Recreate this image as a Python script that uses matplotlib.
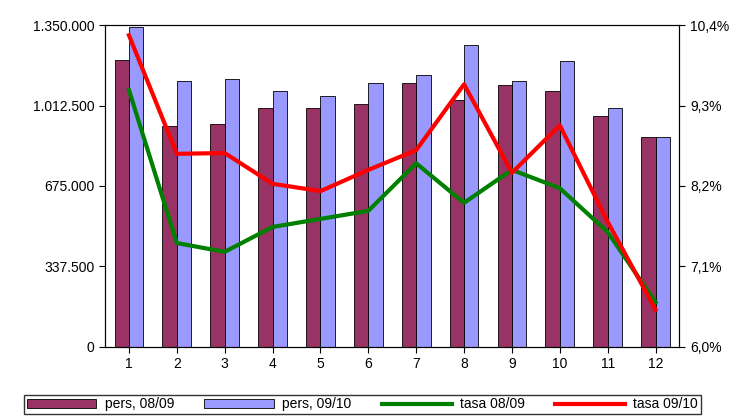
import matplotlib
matplotlib.use("Agg")
import matplotlib.pyplot as plt
import numpy as np
from matplotlib.ticker import FuncFormatter

plt.rcParams['font.family'] = ['Liberation Sans', 'DejaVu Sans']

months = [1,2,3,4,5,6,7,8,9,10,11,12]
pers_0809 = [1203000, 927000, 935000, 1002000, 1002000, 1019000, 1107000, 1036000, 1099000, 1073000, 969000, 880000]
pers_0910 = [1342000, 1115000, 1124000, 1073000, 1052000, 1107000, 1140000, 1266000, 1115000, 1199000, 1002000, 880000]
tasa_0809 = [9.51, 7.42, 7.30, 7.64, 7.75, 7.86, 8.51, 7.97, 8.42, 8.17, 7.57, 6.61]
tasa_0910 = [10.26, 8.64, 8.65, 8.23, 8.13, 8.42, 8.69, 9.59, 8.38, 9.03, 7.71, 6.51]
left_ticks = [0, 337500, 675000, 1012500, 1350000]
right_ticks = [6.0, 7.1, 8.2, 9.3, 10.4]

fig = plt.figure(figsize=(7.47, 4.17), dpi=100)
ax = fig.add_axes([0.1406, 0.168, 0.769, 0.772])
x = np.arange(len(months))
w = 0.3
b1 = ax.bar(x - w/2, pers_0809, w, color='#993366', edgecolor='black', linewidth=0.6, label='pers, 08/09')
b2 = ax.bar(x + w/2, pers_0910, w, color='#9999FF', edgecolor='black', linewidth=0.6, label='pers, 09/10')
ax.set_xlim(-0.5, 11.5)
ax.set_ylim(0, 1350000)
ax.set_yticks(left_ticks)
ax.yaxis.set_major_formatter(FuncFormatter(lambda v, p: f"{int(v):,}".replace(',', '.')))
ax.set_xticks(x)
ax.set_xticklabels([str(m) for m in months])
ax.tick_params(labelsize=10, direction='out', length=4)

ax2 = ax.twinx()
l1, = ax2.plot(x, tasa_0809, color='#008000', lw=3, label='tasa 08/09')
l2, = ax2.plot(x, tasa_0910, color='#FF0000', lw=3, label='tasa 09/10')
ax2.set_ylim(6.0, 10.4)
ax2.set_yticks(right_ticks)
ax2.yaxis.set_major_formatter(FuncFormatter(lambda v, p: f"{v:.1f}".replace('.', ',') + '%'))
ax2.tick_params(labelsize=10, direction='out', length=4)

fig.legend([b1, b2, l1, l2], ['pers, 08/09', 'pers, 09/10', 'tasa 08/09', 'tasa 09/10'],
           loc='lower center', bbox_to_anchor=(0.485, -0.01), ncol=4, frameon=True, fancybox=False,
           edgecolor='black', fontsize=10, handlelength=5, columnspacing=2.2, borderpad=0.2,
           handletextpad=0.6)
fig.savefig('out.png', dpi=100)
